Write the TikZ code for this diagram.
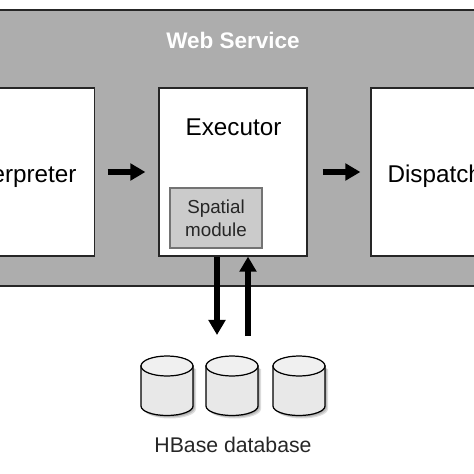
\documentclass[tikz,border=0pt]{standalone}
\usepackage{fontspec}
\setmainfont{Liberation Sans}
\usetikzlibrary{arrows.meta}
\definecolor{bandgray}{HTML}{ADADAD}
\definecolor{modulegray}{HTML}{CBCBCB}
\definecolor{dbgray}{HTML}{E8E8E8}
\tikzset{
    procbox/.style={draw=black!85, fill=white, line width=0.7pt, minimum width=2.96cm, minimum height=3.36cm, inner sep=0pt},
    proclbl/.style={anchor=base, inner sep=0pt, font=\fontsize{13.8}{16}\selectfont},
    modbox/.style={draw=black!55, fill=modulegray, line width=0.7pt, minimum width=1.84cm, minimum height=1.2cm, inner sep=0pt, align=center, font=\fontsize{10.7}{13}\selectfont, text=black!85},
    flow/.style={-{Triangle[length=8.6pt,width=9.4pt]}, line width=3.2pt, black}
}
\begin{document}
\begin{tikzpicture}[x=0.02cm, y=-0.02cm]
    \useasboundingbox (0,0) rectangle (474,474);
    \clip (0,0) rectangle (474,474);
    \filldraw[fill=bandgray, draw=black!85, line width=0.7pt] (-10,10) rectangle (484,286);
    \node[anchor=base, inner sep=0pt, text=white, font=\fontsize{12.8}{15}\selectfont\bfseries] (websrv) at (233,48) {Web Service};
    \node[procbox] (interp) at (20.5,172) {};
    \node[procbox] (exec) at (233,172) {};
    \node[procbox] (disp) at (445,172) {};
    \node[proclbl] (interplbl) at (20.5,182) {Interpreter};
    \node[proclbl] (execlbl) at (233.5,135) {Executor};
    \node[proclbl] (displbl) at (445.5,182) {Dispatcher};
    \node[modbox] (spatial) at (216,218) {Spatial\\module};
    \foreach \cx in {167,232,299} {
        \foreach \s in {1,2,3}
            \fill[black, opacity=0.13] ({\cx-26+\s},{366+\s}) -- ({\cx-26+\s},{406+\s}) arc[start angle=180, end angle=0, x radius=26, y radius=9.5] -- ({\cx+26+\s},{366+\s}) -- cycle;
        \filldraw[fill=dbgray, draw=black, line width=0.7pt] ({\cx-26},366) -- ({\cx-26},406) arc[start angle=180, end angle=0, x radius=26, y radius=9.5] -- ({\cx+26},366) -- cycle;
        \filldraw[fill=dbgray!65!white, draw=black, line width=0.7pt] (\cx,366) ellipse [x radius=26, y radius=10];
    }
    \node[anchor=base, inner sep=0pt, font=\fontsize{12.1}{14}\selectfont, text=black!85] (dblbl) at (233,452.7) {HBase database};
    \coordinate (dbout) at (217,335);
    \coordinate (dbin) at (248,336);
    \draw[flow, shorten <=7.1pt, shorten >=7.4pt] (interp) -- (exec);
    \draw[flow, shorten <=8.5pt, shorten >=5.7pt] (exec) -- (disp);
    \draw[flow] (dbout |- exec.south) -- (dbout);
    \draw[flow] (dbin) -- (dbin |- exec.south);
\end{tikzpicture}
\end{document}
